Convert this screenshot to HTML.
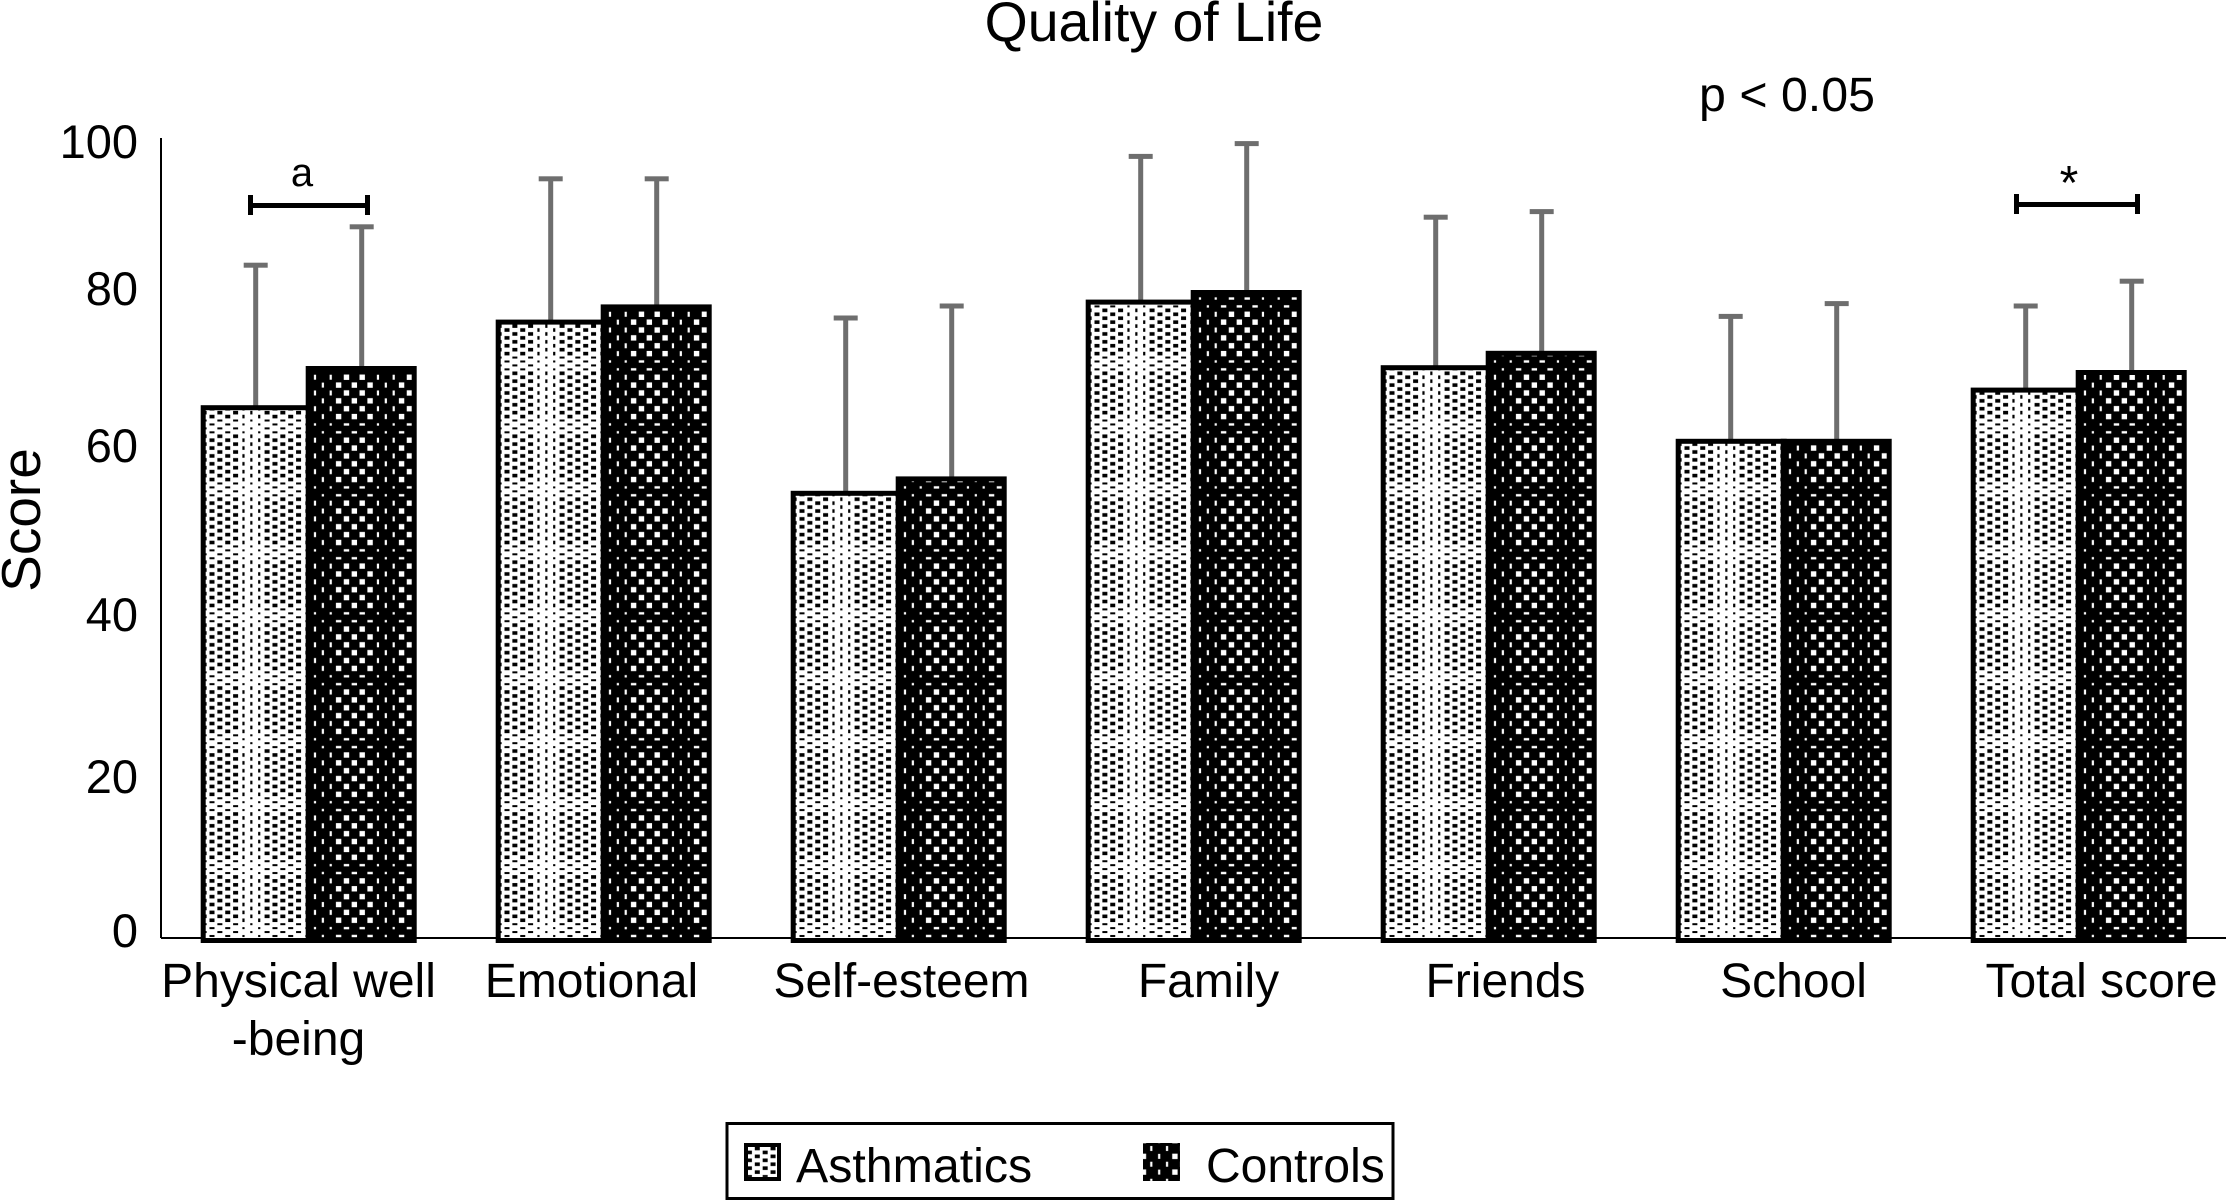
<!DOCTYPE html>
<html>
<head>
<meta charset="utf-8">
<title>Quality of Life</title>
<style>
html,body{margin:0;padding:0;background:#fff;width:2226px;height:1201px;overflow:hidden}
svg{display:block;font-family:"Liberation Sans",Arial,sans-serif;fill:#000}
</style>
</head>
<body>
<svg id="chart" xmlns="http://www.w3.org/2000/svg" width="2226" height="1201" viewBox="0 0 2226 1201">
<rect width="2226" height="1201" fill="#fff"/>
<defs id="defs"></defs>
<text x="1154" y="41" font-size="55.4" text-anchor="middle">Quality of Life</text>
<text x="1787" y="111" font-size="48.3" text-anchor="middle">p &lt; 0.05</text>
<text transform="translate(40,520) rotate(-90)" font-size="55" text-anchor="middle">Score</text>
<g id="marks"></g>
<g id="labels"></g>
<g fill="#000">
<rect x="250" y="203" width="118" height="5"/><rect x="248" y="195" width="5" height="20"/><rect x="365" y="195" width="5" height="20"/>
<text x="302" y="186" font-size="40" text-anchor="middle">a</text>
</g>
<g fill="#000">
<rect x="2016" y="202" width="122" height="5"/><rect x="2014" y="194" width="5" height="20"/><rect x="2135" y="194" width="5" height="20"/>
<text x="2069" y="199" font-size="48" text-anchor="middle">*</text>
</g>
<g>
<rect x="727" y="1123.5" width="666" height="75" fill="#fff" stroke="#000" stroke-width="3"/>
<rect id="swA" x="746" y="1145" width="33" height="34" stroke="#000" stroke-width="4" fill="#fff"/>
<text x="796" y="1182" font-size="48.3">Asthmatics</text>
<rect id="swC" x="1143" y="1143" width="37" height="38" fill="#000"/>
<text x="1206" y="1182" font-size="48">Controls</text>
</g>
</svg>
<script>
const categories = ["Physical well|-being", "Emotional", "Self-esteem", "Family", "Friends", "School", "Total score"];
const asthmaticsMean = [66.6, 77.3, 55.9, 79.8, 71.6, 62.4, 68.8];
const controlsMean = [71.5, 79.2, 57.7, 81.0, 73.4, 62.4, 71.0];
const asthmaticsUpper = [84.1, 94.9, 77.5, 97.7, 90.1, 77.7, 79.0];
const controlsUpper = [88.9, 94.9, 79.0, 99.3, 90.8, 79.3, 82.1];
const tickLabels = [100, 80, 60, 40, 20, 0];

const NS = "http://www.w3.org/2000/svg";
const X0 = 161, BAND = 295, Y0 = 938, PX_PER_UNIT = 8, PAD = 39.7, A_W = 106, C_W = 110, BOTTOM = 943;
const tickNudge = [20, 7, 4, 13, 15, 9];
const catNudge = [-10, -12, 3, 15, 17, 10, 23];
function yScale(v) { return Y0 - v * PX_PER_UNIT; }
function bandLeft(i) { return X0 + BAND * i; }
function make(tag, attrs) {
  const e = document.createElementNS(NS, tag);
  for (const k in attrs) e.setAttribute(k, attrs[k]);
  return e;
}
const defs = document.getElementById("defs");
const marks = document.getElementById("marks");
const labels = document.getElementById("labels");
const STEP = 7.87;

function patternControls(id, left) {
  const p = make("pattern", { id: id, patternUnits: "userSpaceOnUse", width: STEP * 8, height: STEP * 16, x: left + 8.3 - STEP / 2, y: 936 - STEP / 2 });
  p.appendChild(make("rect", { width: STEP * 8, height: STEP * 16, fill: "#000" }));
  for (let j = 0; j < 16; j++) {
    const r = (16 - j) % 16;
    for (let k = 0; k < 8; k++) {
      if ((k + r) % 2 === 0) continue;
      const narrow = k <= 2;
      const m = r % 8;
      const w = narrow ? 2.2 : 5.4;
      const h = (m === 0 || m === 1) ? 2.4 : (narrow ? 5 : 5.4);
      p.appendChild(make("rect", { x: STEP / 2 + STEP * k - w / 2, y: STEP / 2 + STEP * j - h / 2, width: w, height: h, fill: "#fff" }));
    }
  }
  defs.appendChild(p);
}
function patternAsthmatics(id, left) {
  const hs = STEP / 2;
  const p = make("pattern", { id: id, patternUnits: "userSpaceOnUse", width: STEP * 8, height: STEP * 8, x: left + 11.3 - hs, y: 936 - hs / 2 });
  p.appendChild(make("rect", { width: STEP * 8, height: STEP * 8, fill: "#fff" }));
  for (let j = 0; j < 16; j++) {
    const r = (16 - j) % 16;
    for (let k = 0; k < 8; k++) {
      if ((k + r) % 2 === 1) continue;
      const narrow = k >= 4 && k <= 6;
      const w = narrow ? 2.2 : 5;
      const h = r < 4 ? 2 : 3.6;
      p.appendChild(make("rect", { x: hs + STEP * k - w / 2, y: hs / 2 + hs * j - h / 2, width: w, height: h, fill: "#000" }));
    }
  }
  defs.appendChild(p);
}

function errorBar(cx, lowV, highV) {
  const g = make("g", { fill: "#6e6e6e" });
  
  
  g.appendChild(make("rect", { x: cx - 2.5, y: yScale(highV), width: 5, height: yScale(lowV) - yScale(highV) + 3 }));
  g.appendChild(make("rect", { x: cx - 12, y: yScale(highV) - 2.5, width: 24, height: 5 }));
  marks.appendChild(g);
}
function bar(x, w, v, fillId) {
  const top = yScale(v);
  const r = make("rect", { x: x + 2.5, y: top + 2.5, width: w - 5, height: BOTTOM - top - 5, fill: "url(#" + fillId + ")", stroke: "#000", "stroke-width": 5 });
  
  
  marks.appendChild(r);
}

categories.forEach(function (cat, i) {
  const left = bandLeft(i) + PAD;
  const aId = "pa" + i, cId = "pc" + i;
  patternAsthmatics(aId, left);
  patternControls(cId, left + A_W);
  errorBar(left + A_W / 2 + 2, asthmaticsMean[i], asthmaticsUpper[i]);
  errorBar(left + A_W + C_W / 2, controlsMean[i], controlsUpper[i]);
  bar(left, A_W + 5, asthmaticsMean[i], aId);
  bar(left + A_W - 1, C_W + 1, controlsMean[i], cId);
});

const yAxis = make("line", { x1: X0, y1: yScale(100), x2: X0, y2: Y0, stroke: "#000", "stroke-width": 2 });


marks.appendChild(yAxis);
const xAxis = make("line", { x1: X0, y1: Y0, x2: 2226, y2: Y0, stroke: "#000", "stroke-width": 2 });


marks.insertBefore(xAxis, marks.firstChild);

tickLabels.forEach(function (v, i) {
  const t = make("text", { x: 138, y: yScale(v) + tickNudge[i], "font-size": 47, "text-anchor": "end" });
  
  
  t.textContent = v;
  labels.appendChild(t);
});
categories.forEach(function (cat, i) {
  cat.split("|").forEach(function (line, n) {
    const t = make("text", { x: bandLeft(i) + BAND / 2 + catNudge[i], y: 997 + n * 58, "font-size": 48, "text-anchor": "middle" });
    
    
    t.textContent = line;
    labels.appendChild(t);
  });
});
patternAsthmatics("paL", 746);
patternControls("pcL", 1143);
document.getElementById("swA").setAttribute("fill", "url(#paL)");
document.getElementById("swC").setAttribute("fill", "url(#pcL)");
</script>
</body>
</html>
